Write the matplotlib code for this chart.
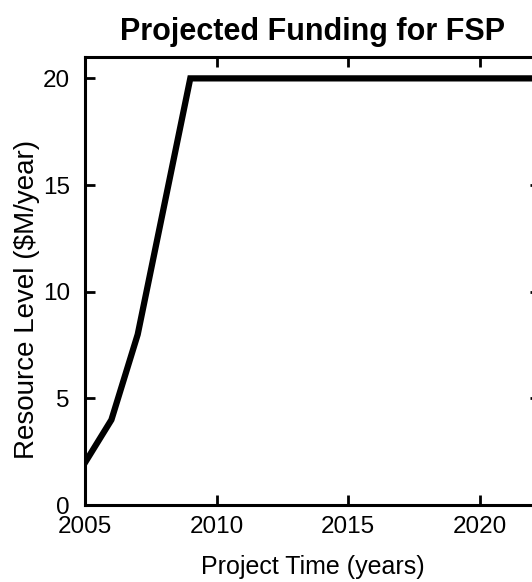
import matplotlib
matplotlib.use("Agg")
import matplotlib.pyplot as plt

# projected funding, $M/year
years = [2005, 2006, 2007, 2008, 2009, 2023]
funding = [2, 4, 8, 14, 20, 20]

x_ticks = [2005, 2010, 2015, 2020]
y_ticks = [0, 5, 10, 15, 20]

plt.rcParams['font.family'] = ['Liberation Sans', 'DejaVu Sans']

fig = plt.figure(figsize=(5.32, 5.82), dpi=100)
# right spine sits just past the figure edge, like the scanned original
ax = fig.add_axes([0.16, 0.132, 0.855, 0.77])

ax.plot(years, funding, color='black', linewidth=4.5, solid_joinstyle='miter')

ax.set_xlim(2005, 2022.3)
ax.set_ylim(0, 21)
ax.set_xticks(x_ticks)
ax.set_yticks(y_ticks)

ax.tick_params(direction='in', length=7, width=2, labelsize=17.5,
               top=True, right=True)
ax.tick_params(axis='y', pad=11)
ax.tick_params(axis='x', pad=8)
for sp in ax.spines.values():
    sp.set_linewidth(2.2)

ax.set_title("Projected Funding for FSP", fontsize=22, fontweight='bold', pad=12)
ax.set_xlabel("Project Time (years)", fontsize=18, labelpad=12)
ax.set_ylabel("Resource Level ($M/year)", fontsize=20)
ax.yaxis.set_label_coords(-0.1, 0.46)

fig.savefig("out.png", dpi=100)
